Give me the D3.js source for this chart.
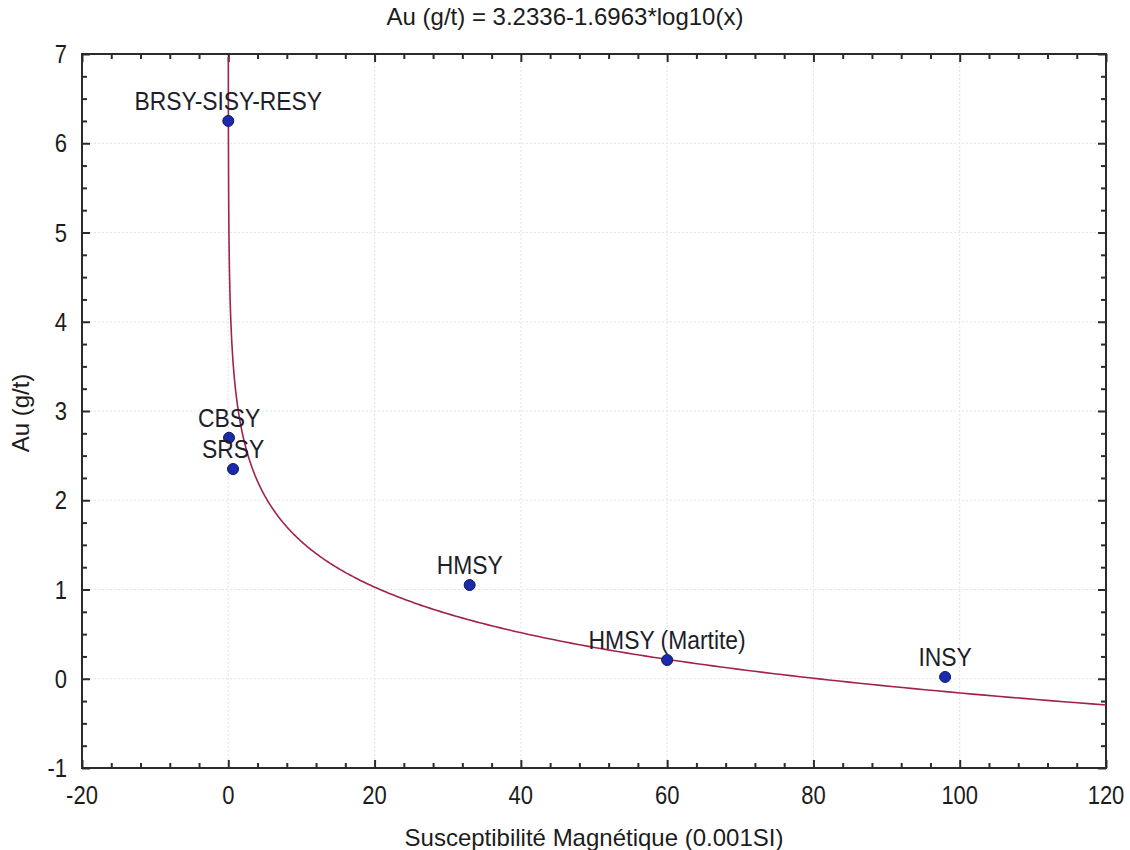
<!DOCTYPE html>
<html>
<head>
<meta charset="utf-8">
<script src="https://cdn.jsdelivr.net/npm/d3@7/dist/d3.min.js"></script>
<style>
  html, body { margin: 0; padding: 0; background: #fff; }
  svg { display: block; font-family: "Liberation Sans", Arial, sans-serif; }
</style>
</head>
<body>
<svg id="chart" width="1130" height="850"></svg>
<script>
// Lithology samples: magnetic susceptibility vs. gold grade
const sampleNames = ["BRSY-SISY-RESY", "CBSY", "SRSY", "HMSY", "HMSY (Martite)", "INSY"];
const susceptibility = [0, 0.1, 0.65, 33, 60, 98];
const goldGrade = [6.25, 2.70, 2.35, 1.05, 0.21, 0.02];

// Fitted model: Au = a + b*log10(x)
const fitCoefficients = [3.2336, -1.6963];

const xTicks = [-20, 0, 20, 40, 60, 80, 100, 120];
const yTicks = [-1, 0, 1, 2, 3, 4, 5, 6, 7];

const titleText = "Au (g/t) = 3.2336-1.6963*log10(x)";
const xTitle = "Susceptibilité Magnétique (0.001SI)";
const yTitle = "Au (g/t)";

const svg = d3.select("#chart");
const W = 1130, H = 850;
const plot = { left: 82, top: 54, right: 1106, bottom: 768 };

const x = d3.scaleLinear().domain([-20, 120]).range([plot.left, plot.right]);
const y = d3.scaleLinear().domain([-1, 7]).range([plot.bottom, plot.top]);

const axisColor = "#2b2b2b";
const textColor = "#1c1c1c";
const condensed = 0.88;   // horizontal squeeze for tick and point labels

// faint dotted grid at major ticks
const grid = svg.append("g").attr("stroke", "#e3e3e8").attr("stroke-width", 1).attr("stroke-dasharray", "2,2");
grid.selectAll("line.gx").data(xTicks.slice(1, -1)).join("line")
  .attr("x1", d => x(d)).attr("x2", d => x(d)).attr("y1", plot.top).attr("y2", plot.bottom);
grid.selectAll("line.gy").data(yTicks.slice(1, -1)).join("line")
  .attr("y1", d => y(d)).attr("y2", d => y(d)).attr("x1", plot.left).attr("x2", plot.right);

// minor tick positions
const xMinor = d3.range(-20, 120.001, 4).filter(v => !xTicks.includes(v));
const yMinor = d3.range(-1, 7.001, 0.25).filter(v => Math.abs(v - Math.round(v)) > 1e-6);

function styleAxis(g) {
  g.select(".domain").remove();
  g.selectAll(".tick line").attr("stroke", axisColor).attr("stroke-width", 2);
  g.selectAll(".tick text").remove();
}

// inward ticks on all four sides (major + minor)
const sides = [
  [d3.axisBottom, x, xTicks, xMinor, `translate(0,${plot.bottom})`],
  [d3.axisTop, x, xTicks, xMinor, `translate(0,${plot.top})`],
  [d3.axisLeft, y, yTicks, yMinor, `translate(${plot.left},0)`],
  [d3.axisRight, y, yTicks, yMinor, `translate(${plot.right},0)`]
];
sides.forEach(([axisFn, scale, major, minor, tr]) => {
  svg.append("g").attr("transform", tr)
    .call(axisFn(scale).tickValues(major).tickSizeInner(-8).tickSizeOuter(0)).call(styleAxis);
  svg.append("g").attr("transform", tr)
    .call(axisFn(scale).tickValues(minor).tickSizeInner(-5).tickSizeOuter(0)).call(styleAxis);
});

// tick labels
svg.append("g").selectAll("text").data(xTicks).join("text")
  .attr("transform", d => `translate(${x(d)},${plot.bottom + 36}) scale(${condensed},1)`)
  .attr("text-anchor", "middle").attr("fill", textColor).style("font-size", "25px")
  .text(d => String(d));
svg.append("g").selectAll("text").data(yTicks).join("text")
  .attr("transform", d => `translate(${plot.left - 15},${y(d) + 9}) scale(${condensed},1)`)
  .attr("text-anchor", "end").attr("fill", textColor).style("font-size", "25px")
  .text(d => String(d));

// frame
svg.append("rect")
  .attr("x", plot.left).attr("y", plot.top)
  .attr("width", plot.right - plot.left).attr("height", plot.bottom - plot.top)
  .attr("fill", "none").attr("stroke", axisColor).attr("stroke-width", 2);

// clip for the fitted curve
svg.append("clipPath").attr("id", "plotClip")
  .append("rect").attr("x", plot.left).attr("y", plot.top + 3)
  .attr("width", plot.right - plot.left).attr("height", plot.bottom - plot.top - 3);

// fitted curve, sampled on a log grid of x
const [a, b] = fitCoefficients;
const xStart = Math.pow(10, (7 - a) / b);
const curve = d3.range(0, 1.0001, 1 / 600).map(t => {
  const xv = xStart * Math.pow(120 / xStart, t);
  return [xv, a + b * Math.log10(xv)];
});
svg.append("path")
  .datum(curve)
  .attr("clip-path", "url(#plotClip)")
  .attr("fill", "none")
  .attr("stroke", "#a3224a")
  .attr("stroke-width", 1.6)
  .attr("d", d3.line().x(d => x(d[0])).y(d => y(d[1])));

// sample points
const samples = sampleNames.map((n, i) => ({ name: n, x: susceptibility[i], y: goldGrade[i] }));
svg.append("g").selectAll("circle").data(samples).join("circle")
  .attr("cx", d => x(d.x)).attr("cy", d => y(d.y)).attr("r", 5.5)
  .attr("fill", "#1a2aa8").attr("stroke", "#0c1675").attr("stroke-width", 1);

svg.append("g").selectAll("text").data(samples).join("text")
  .attr("transform", d => `translate(${x(d.x)},${y(d.y) - 11}) scale(${condensed},1)`)
  .attr("text-anchor", "middle")
  .attr("fill", "#1e1e2a")
  .style("font-size", "26px")
  .text(d => d.name);

// titles
svg.append("text").attr("x", W / 2).attr("y", 25).attr("text-anchor", "middle")
  .attr("fill", textColor).style("font-size", "24px").text(titleText);
svg.append("text").attr("x", (plot.left + plot.right) / 2).attr("y", 846).attr("text-anchor", "middle")
  .attr("fill", textColor).style("font-size", "24px").text(xTitle);
svg.append("text")
  .attr("transform", `translate(29,${(plot.top + plot.bottom) / 2 + 2}) rotate(-90)`)
  .attr("text-anchor", "middle")
  .attr("fill", textColor).style("font-size", "24px").text(yTitle);
</script>
</body>
</html>
